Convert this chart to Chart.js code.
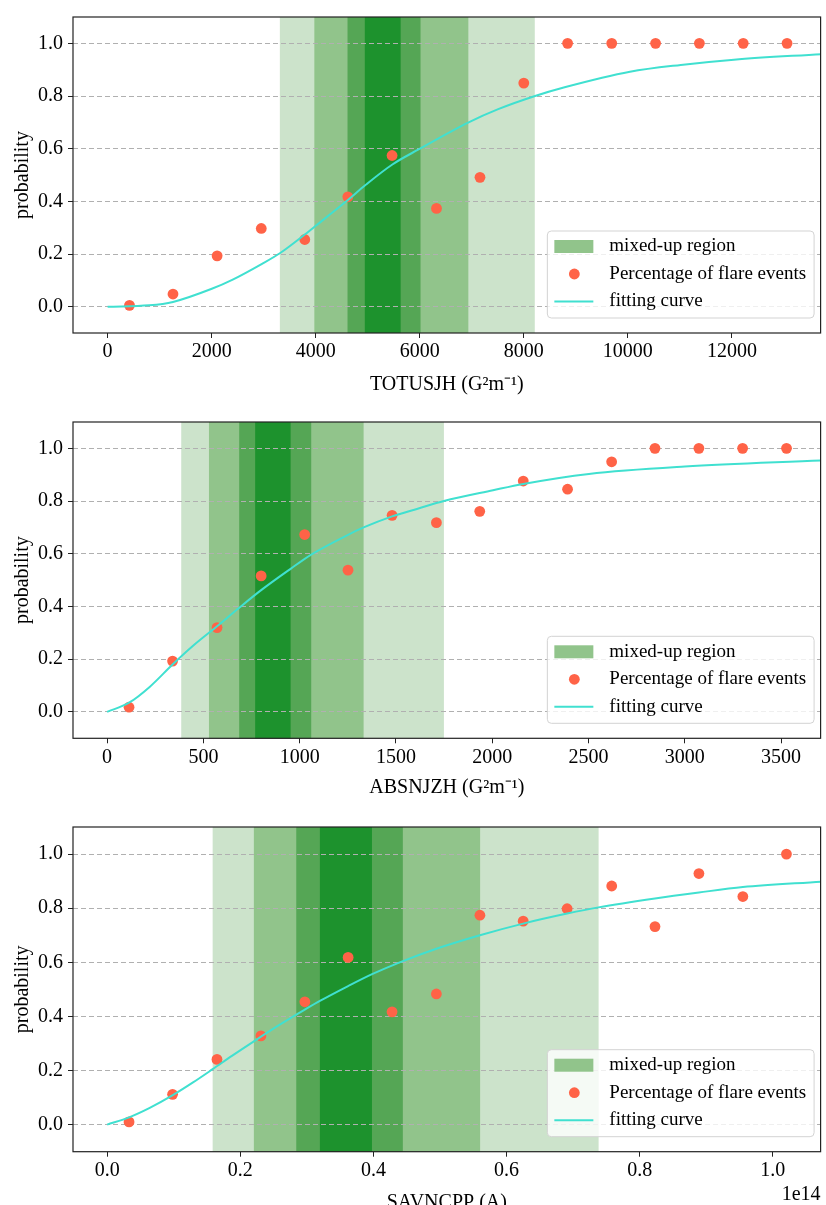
<!DOCTYPE html>
<html>
<head>
<meta charset="utf-8">
<script src="https://cdn.jsdelivr.net/npm/chart.js@4.4.1/dist/chart.umd.min.js"></script>
<style>
  body { margin: 0; background: #fff; overflow: hidden; }
  .panel { position: absolute; left: 0; width: 826px; }
</style>
</head>
<body>
<div class="panel" style="top:0;height:400px"><canvas id="graphique-totusjh"></canvas></div>
<div class="panel" style="top:405px;height:400px"><canvas id="graphique-absnjzh"></canvas></div>
<div class="panel" style="top:810px;height:410px"><canvas id="graphique-savncpp"></canvas></div>
<script>
const yTicks = [0, 0.2, 0.4, 0.6, 0.8, 1.0]
const legendLabels = ["mixed-up region", "Percentage of flare events", "fitting curve"]
const bandColors = ["#cce3cb", "#91c48b", "#55a655", "#1d922d"]

// TOTUSJH
const totX = [421, 1257, 2105, 2954, 3790, 4618, 5468, 6322, 7158, 8000, 8842, 9690, 10533, 11375, 12218, 13060]
const totProb = [0.005, 0.048, 0.193, 0.297, 0.255, 0.417, 0.574, 0.373, 0.491, 0.849, 1, 1, 1, 1, 1, 1]
const totCurveX = [0, 800, 1257, 2003, 2405, 2960, 3311, 3796, 4000, 4618, 4957, 5474, 5977, 6940, 7508, 8217, 8785, 10041, 11017, 12039, 13716]
const totCurveY = [0, 0.005, 0.018, 0.068, 0.103, 0.162, 0.203, 0.275, 0.307, 0.405, 0.462, 0.540, 0.597, 0.700, 0.750, 0.800, 0.833, 0.892, 0.918, 0.938, 0.959]
const totBands = [[3311, 8211], [3974, 6934], [4612, 6015], [4944, 5633]]
const totTicks = [0, 2000, 4000, 6000, 8000, 10000, 12000]

// ABSNJZH
const absX = [114, 340, 571, 800, 1026, 1251, 1480, 1710, 1935, 2161, 2391, 2620, 2845, 3073, 3300, 3528]
const absProb = [0.018, 0.193, 0.320, 0.516, 0.673, 0.538, 0.746, 0.718, 0.761, 0.876, 0.845, 0.949, 1, 1, 1, 1]
const absCurveX = [0, 114, 221, 340, 445, 571, 686, 800, 953, 1060, 1251, 1332, 1480, 1617, 1749, 2004, 2161, 2502, 3000, 3707]
const absCurveY = [0, 0.035, 0.095, 0.180, 0.250, 0.325, 0.395, 0.462, 0.543, 0.597, 0.672, 0.700, 0.742, 0.772, 0.800, 0.841, 0.865, 0.903, 0.931, 0.954]
const absBands = [[385, 1749], [529, 1332], [686, 1060], [769, 953]]
const absTicks = [0, 500, 1000, 1500, 2000, 2500, 3000, 3500]

// SAVNCPP (unités de 1e14 A)
const savX = [0.0329, 0.0983, 0.165, 0.231, 0.297, 0.362, 0.428, 0.4946, 0.560, 0.625, 0.691, 0.758, 0.823, 0.889, 0.955, 1.0205]
const savProb = [0.010, 0.112, 0.241, 0.328, 0.454, 0.618, 0.417, 0.483, 0.774, 0.752, 0.798, 0.882, 0.732, 0.928, 0.843, 1.0]
const savCurveX = [0, 0.033, 0.064, 0.098, 0.129, 0.1585, 0.188, 0.2204, 0.263, 0.297, 0.3196, 0.362, 0.398, 0.4377, 0.4946, 0.560, 0.625, 0.691, 0.738, 0.823, 0.889, 0.955, 1.0723]
const savCurveY = [0, 0.027, 0.062, 0.108, 0.156, 0.205, 0.255, 0.308, 0.375, 0.425, 0.457, 0.512, 0.556, 0.598, 0.650, 0.700, 0.743, 0.780, 0.803, 0.836, 0.858, 0.878, 0.898]
const savBands = [[0.1585, 0.7383], [0.2204, 0.5603], [0.2841, 0.4442], [0.3196, 0.3978]]
const savTicks = [0, 0.2, 0.4, 0.6, 0.8, 1.0]

const serif = "'Liberation Serif', 'Times New Roman', serif"
Chart.defaults.color = "#000"

// Bandes vertes, cadre, légende et texte "1e14"
const panelDecor = {
    id: "panelDecor",
    beforeDraw(chart, args, opts) {
        const { ctx, chartArea: a, scales } = chart
        ctx.save()
        opts.bands.forEach((b, i) => {
            const x1 = scales.x.getPixelForValue(b[0])
            const x2 = scales.x.getPixelForValue(b[1])
            ctx.fillStyle = bandColors[i]
            ctx.fillRect(x1, a.top, x2 - x1, a.bottom - a.top)
        })
        ctx.restore()
    },
    afterDraw(chart, args, opts) {
        const { ctx, chartArea: a } = chart
        ctx.save()
        ctx.strokeStyle = "#222"
        ctx.lineWidth = 1.2
        ctx.strokeRect(a.left, a.top, a.right - a.left, a.bottom - a.top)

        // légende
        ctx.font = "19px " + serif
        const textW = Math.max(...legendLabels.map(t => ctx.measureText(t).width))
        const w = 62 + textW + 8, h = 87
        const x0 = a.right - 6.5 - w, y0 = a.bottom - 15 - h
        ctx.beginPath()
        ctx.roundRect(x0, y0, w, h, 4)
        ctx.fillStyle = "rgba(255,255,255,0.8)"
        ctx.fill()
        ctx.strokeStyle = "#d3d3d3"
        ctx.lineWidth = 1
        ctx.stroke()

        const line = chart.data.datasets[0]
        const dots = chart.data.datasets[1]
        const rowY = [y0 + 15.5, y0 + 43, y0 + 70.5]
        ctx.fillStyle = bandColors[1]
        ctx.fillRect(x0 + 7, rowY[0] - 6.5, 39, 13)
        ctx.beginPath()
        ctx.arc(x0 + 27, rowY[1], dots.pointRadius, 0, Math.PI * 2)
        ctx.fillStyle = dots.backgroundColor
        ctx.fill()
        ctx.beginPath()
        ctx.moveTo(x0 + 7, rowY[2])
        ctx.lineTo(x0 + 46, rowY[2])
        ctx.strokeStyle = line.borderColor
        ctx.lineWidth = line.borderWidth
        ctx.stroke()

        ctx.fillStyle = "#000"
        ctx.textBaseline = "middle"
        ctx.textAlign = "left"
        legendLabels.forEach((t, i) => ctx.fillText(t, x0 + 62, rowY[i]))

        if (opts.offsetText) {
            ctx.font = "20px " + serif
            ctx.textAlign = "right"
            ctx.fillText(opts.offsetText, a.right, a.bottom + 43)
        }
        ctx.restore()
    }
}

function chartPanel(id, p) {
    const config = {
        type: "scatter",
        data: {
            datasets: [{
                type: "line",
                label: legendLabels[2],
                data: p.curveX.map((x, i) => ({ x: x, y: p.curveY[i] })),
                borderColor: "#40e0d0",
                borderWidth: 2,
                pointRadius: 0,
                cubicInterpolationMode: "monotone",
                fill: false,
            }, {
                label: legendLabels[1],
                data: p.x.map((x, i) => ({ x: x, y: p.prob[i] })),
                backgroundColor: "#ff6347",
                borderWidth: 0,
                pointRadius: 5.4,
            }]
        },
        options: {
            responsive: true,
            maintainAspectRatio: false,
            animation: false,
            layout: { padding: { top: 14, right: 2, left: 0, bottom: 0 } },
            plugins: {
                legend: { display: false },
                tooltip: { enabled: false },
                panelDecor: { bands: p.bands, offsetText: p.offsetText },
            },
            scales: {
                x: {
                    type: "linear",
                    min: p.min,
                    max: p.max,
                    afterBuildTicks: s => { s.ticks = p.ticks.map(v => ({ value: v })) },
                    afterFit: s => { s.height = p.axisH },
                    ticks: { font: { family: serif, size: 20 }, padding: 2, maxRotation: 0, callback: p.fmt },
                    grid: { drawOnChartArea: false, tickLength: 5, tickColor: "#222" },
                    border: { display: false },
                    title: { display: true, text: p.title, font: { family: serif, size: 20 }, padding: { top: 0, bottom: p.titlePad } },
                },
                y: {
                    min: -0.1,
                    max: 1.1,
                    afterBuildTicks: s => { s.ticks = yTicks.map(v => ({ value: v })) },
                    afterFit: s => { s.width = 73 },
                    ticks: { font: { family: serif, size: 20 }, padding: 5, callback: v => v.toFixed(1) },
                    grid: { color: "#b0b0b0", lineWidth: 1, tickLength: 5, tickColor: "#222" },
                    border: { display: false, dash: [5, 3] },
                    title: { display: true, text: "probability", font: { family: serif, size: 20 }, padding: { top: 11, bottom: 0 } },
                }
            }
        },
        plugins: [panelDecor],
    }
    new Chart(document.querySelector(id), config)
}

chartPanel("#graphique-totusjh", {
    x: totX, prob: totProb, curveX: totCurveX, curveY: totCurveY, bands: totBands,
    ticks: totTicks, min: -665, max: 13705, fmt: v => String(v),
    title: "TOTUSJH (G\u00B2m\u207B\u00B9)", axisH: 67, titlePad: 3,
})
chartPanel("#graphique-absnjzh", {
    x: absX, prob: absProb, curveX: absCurveX, curveY: absCurveY, bands: absBands,
    ticks: absTicks, min: -177, max: 3705, fmt: v => String(v),
    title: "ABSNJZH (G\u00B2m\u207B\u00B9)", axisH: 66.7, titlePad: 5,
})
chartPanel("#graphique-savncpp", {
    x: savX, prob: savProb, curveX: savCurveX, curveY: savCurveY, bands: savBands,
    ticks: savTicks, min: -0.0513, max: 1.0718, fmt: v => v.toFixed(1),
    title: "SAVNCPP (A)", axisH: 68.3, titlePad: 5, offsetText: "1e14",
})
</script>
</body>
</html>
